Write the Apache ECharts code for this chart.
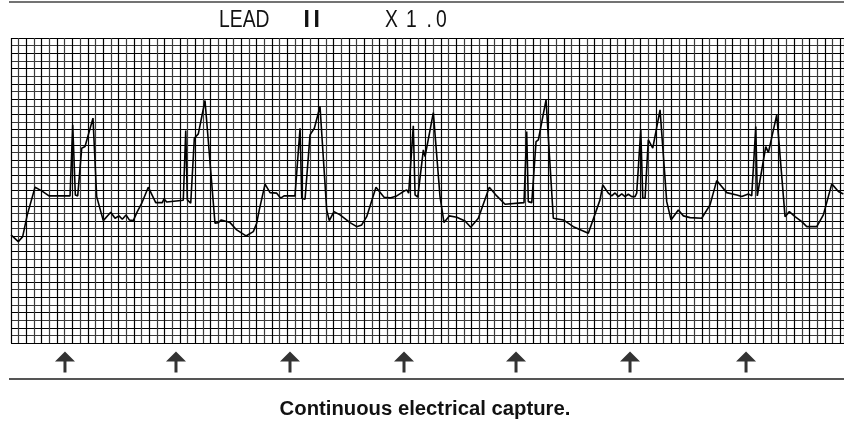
<!DOCTYPE html>
<html>
<head>
<meta charset="utf-8">
<script src="https://cdn.jsdelivr.net/npm/echarts@6/dist/echarts.min.js"></script>
<style>
html,body{margin:0;padding:0;background:#fff;}
#chart{width:844px;height:425px;}
</style>
</head>
<body>
<div id="chart"></div>
<script>
// Time axis in small grid boxes (mm), amplitude in small grid boxes (mm)
const sampleX = [0,0.95,1.52,2.12,3.13,4.00,4.95,7.69,8.04,8.38,
  8.69,9.21,9.42,9.64,10.68,11.16,12.02,12.99,13.55,14.07,
  14.50,14.98,15.41,15.93,16.45,17.03,17.88,18.85,19.71,19.93,
  20.28,22.44,22.76,22.97,23.41,23.88,24.40,25.27,26.57,27.00,
  27.39,28.53,29.40,30.61,31.56,32.00,32.34,33.09,33.74,34.61,
  35.13,35.56,36.99,37.22,37.65,37.87,38.30,38.95,39.51,40.25,
  41.12,41.46,42.07,42.86,44.16,45.03,45.68,46.33,47.54,48.59,
  49.37,50.24,51.10,51.54,51.80,52.40,52.63,52.98,53.71,53.93,
  55.01,55.88,56.40,57.09,58.06,59.14,59.88,60.87,62.30,63.27,
  64.35,66.82,67.17,67.38,67.83,68.39,68.69,69.69,70.64,71.94,
  73.25,75.20,76.72,77.08,77.80,78.25,78.68,79.11,79.55,79.98,
  80.41,80.85,81.28,81.50,82.03,82.29,82.59,83.01,83.59,84.54,
  85.41,85.97,86.92,87.58,88.45,89.97,91.05,91.92,93.23,94.53,
  95.18,96.04,96.48,97.01,97.21,97.47,98.31,98.65,99.74,100.82,
  101.38,102.12,103.00,103.65,104.95,105.81,106.91,107.77,108.42];
const sampleY = [14.17,13.29,13.95,16.80,20.43,19.95,19.29,19.29,28.61,19.42,
  19.29,25.55,25.33,25.76,29.49,19.20,16.05,17.15,16.36,16.67,
  16.23,16.80,16.14,16.05,17.23,18.33,20.43,18.41,18.41,18.90,
  18.50,18.73,27.86,18.77,18.33,26.86,27.43,31.80,15.71,15.79,
  16.14,15.79,14.83,14.04,14.61,15.71,17.45,20.83,19.72,19.65,
  18.99,19.29,19.29,19.55,28.17,18.99,18.86,27.30,28.17,31.01,
  17.45,16.05,17.23,16.80,15.79,15.26,15.49,16.57,20.43,19.12,
  19.03,19.29,19.86,20.08,19.65,28.48,19.42,19.12,25.33,24.45,
  30.22,19.20,15.79,16.67,16.50,16.01,15.18,16.36,20.43,19.29,
  18.20,18.41,27.73,18.54,18.41,26.42,26.64,31.89,16.36,16.14,
  15.26,14.40,18.77,20.73,19.65,19.29,19.68,19.20,19.55,19.20,
  19.51,19.20,19.20,19.65,27.95,18.99,18.99,26.64,25.55,30.58,
  18.54,16.14,17.45,16.67,16.44,16.36,18.11,21.30,19.72,19.42,
  19.20,19.55,19.29,28.39,19.29,19.12,25.76,24.97,29.92,16.57,
  17.23,16.57,15.92,15.26,15.26,16.80,20.87,19.86,19.55];
const pacerMarks = [7.03, 21.49, 36.34, 51.19, 65.78, 80.63, 95.74];
const titleParts = ['LEAD', 'I', 'I', 'X', '1', '.', '0'];
const caption = 'Continuous electrical capture.';

// layout (not data)
const titleX = [219, 303.5, 313.5, 385, 406, 426.5, 436];
const titleBold = [false, true, true, false, false, false, false];

const ecg = sampleX.map((x, i) => [x, sampleY[i]]);
const marks = pacerMarks.map(x => [x, 0.5]);

const chart = echarts.init(document.getElementById('chart'), null, {renderer: 'canvas'});
const gridColors = ['#000', '#3a3a3a'];
const graphics = [
  {type: 'line', shape: {x1: 9, y1: 2, x2: 844, y2: 2}, style: {stroke: '#444', lineWidth: 1.5}},
  {type: 'line', shape: {x1: 9, y1: 379, x2: 844, y2: 379}, style: {stroke: '#555', lineWidth: 2}},
  {type: 'text', x: 425, y: 409, style: {text: caption, font: 'bold 20.3px "Liberation Sans", Arial, sans-serif', fill: '#111', textAlign: 'center', textVerticalAlign: 'middle'}}
];
titleParts.forEach((t, i) => {
  graphics.push({
    type: 'text', x: titleX[i], y: 21, scaleX: titleBold[i] ? 1 : 0.84,
    style: {text: t, font: (titleBold[i] ? 'bold ' : '') + '23px "Liberation Sans", Arial, sans-serif', fill: '#111', textAlign: 'left', textVerticalAlign: 'middle'}
  });
});

chart.setOption({
  animation: false,
  backgroundColor: '#fff',
  grid: [
    {left: 11, top: 38, width: 833, height: 305, containLabel: false},
    {left: 11, top: 344, width: 833, height: 36, containLabel: false}
  ],
  xAxis: [
    {type: 'value', gridIndex: 0, min: 0, max: 108.5, interval: 1,
     axisLine: {show: false}, axisTick: {show: false}, axisLabel: {show: false},
     splitLine: {show: true, lineStyle: {color: gridColors, width: 1.2}}},
    {type: 'value', gridIndex: 1, min: 0, max: 108.5, show: false, splitLine: {show: false}}
  ],
  yAxis: [
    {type: 'value', gridIndex: 0, min: 0, max: 40, interval: 1,
     axisLine: {show: false}, axisTick: {show: false}, axisLabel: {show: false},
     splitLine: {show: true, lineStyle: {color: gridColors, width: 1.2}}},
    {type: 'value', gridIndex: 1, min: 0, max: 1, show: false, splitLine: {show: false}}
  ],
  series: [
    {type: 'line', xAxisIndex: 0, yAxisIndex: 0, data: ecg, showSymbol: false, symbol: 'none',
     lineStyle: {color: '#000', width: 1.6}, z: 5},
    {type: 'scatter', xAxisIndex: 1, yAxisIndex: 1, data: marks,
     symbol: 'path://M10,0 L20,10 L11.5,10 L11.5,21 L8.5,21 L8.5,10 L0,10 Z',
     symbolSize: [20, 21], itemStyle: {color: '#000'}, z: 5}
  ],
  graphic: graphics
});
</script>
</body>
</html>
